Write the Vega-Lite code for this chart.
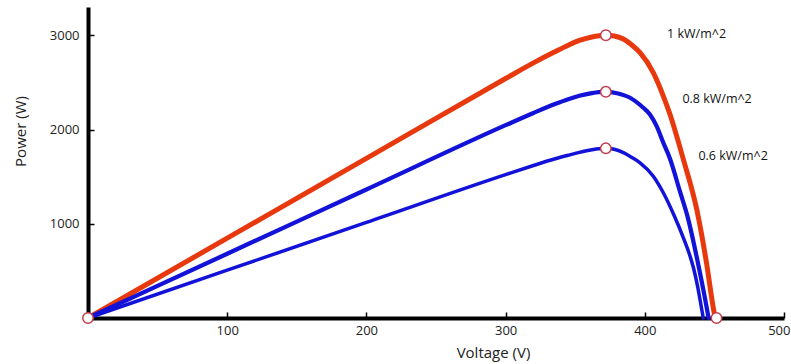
{
  "$schema": "https://vega.github.io/schema/vega-lite/v6.json",
  "width": 696,
  "height": 311,
  "autosize": {"type": "none"},
  "padding": {"left": 88, "top": 7, "right": 7, "bottom": 46},
  "background": "white",
  "config": {
    "view": {"stroke": null},
    "font": "Open Sans",
    "axis": {
      "grid": false,
      "domainColor": "black",
      "domainWidth": 4,
      "tickColor": "black",
      "tickWidth": 1.5,
      "tickSize": -6,
      "labelFont": "Open Sans",
      "labelFontSize": 13,
      "labelColor": "#222",
      "labelFlush": false,
      "titleFont": "Open Sans",
      "titleFontSize": 15,
      "titleFontWeight": "normal",
      "titleColor": "#222"
    }
  },
  "datasets": {
    "curves": [
      {"s": "1 kW/m^2", "V": 0, "P": 0},
      {"s": "1 kW/m^2", "V": 100, "P": 847},
      {"s": "1 kW/m^2", "V": 200, "P": 1694},
      {"s": "1 kW/m^2", "V": 300, "P": 2541},
      {"s": "1 kW/m^2", "V": 320, "P": 2707},
      {"s": "1 kW/m^2", "V": 335, "P": 2822},
      {"s": "1 kW/m^2", "V": 345, "P": 2895},
      {"s": "1 kW/m^2", "V": 353, "P": 2945},
      {"s": "1 kW/m^2", "V": 362, "P": 2982},
      {"s": "1 kW/m^2", "V": 367, "P": 2995},
      {"s": "1 kW/m^2", "V": 372, "P": 3000},
      {"s": "1 kW/m^2", "V": 378, "P": 2992},
      {"s": "1 kW/m^2", "V": 384.6, "P": 2960},
      {"s": "1 kW/m^2", "V": 390.5, "P": 2900},
      {"s": "1 kW/m^2", "V": 396.6, "P": 2815},
      {"s": "1 kW/m^2", "V": 406.1, "P": 2603},
      {"s": "1 kW/m^2", "V": 413.3, "P": 2355},
      {"s": "1 kW/m^2", "V": 418, "P": 2165},
      {"s": "1 kW/m^2", "V": 427.7, "P": 1683},
      {"s": "1 kW/m^2", "V": 437.5, "P": 1140},
      {"s": "1 kW/m^2", "V": 444.5, "P": 568},
      {"s": "1 kW/m^2", "V": 449.2, "P": 108},
      {"s": "1 kW/m^2", "V": 450.6, "P": 0},
      {"s": "0.8 kW/m^2", "V": 0, "P": 0},
      {"s": "0.8 kW/m^2", "V": 100, "P": 682},
      {"s": "0.8 kW/m^2", "V": 200, "P": 1364},
      {"s": "0.8 kW/m^2", "V": 300, "P": 2046},
      {"s": "0.8 kW/m^2", "V": 320, "P": 2176},
      {"s": "0.8 kW/m^2", "V": 335, "P": 2268},
      {"s": "0.8 kW/m^2", "V": 345, "P": 2322},
      {"s": "0.8 kW/m^2", "V": 353, "P": 2358},
      {"s": "0.8 kW/m^2", "V": 362, "P": 2386},
      {"s": "0.8 kW/m^2", "V": 367, "P": 2396},
      {"s": "0.8 kW/m^2", "V": 372, "P": 2400},
      {"s": "0.8 kW/m^2", "V": 380, "P": 2385},
      {"s": "0.8 kW/m^2", "V": 389.4, "P": 2337},
      {"s": "0.8 kW/m^2", "V": 398.9, "P": 2231},
      {"s": "0.8 kW/m^2", "V": 403.7, "P": 2160},
      {"s": "0.8 kW/m^2", "V": 408.5, "P": 2036},
      {"s": "0.8 kW/m^2", "V": 413.3, "P": 1860},
      {"s": "0.8 kW/m^2", "V": 418.1, "P": 1690},
      {"s": "0.8 kW/m^2", "V": 425.3, "P": 1340},
      {"s": "0.8 kW/m^2", "V": 431, "P": 1060},
      {"s": "0.8 kW/m^2", "V": 438.4, "P": 568},
      {"s": "0.8 kW/m^2", "V": 444.5, "P": 108},
      {"s": "0.8 kW/m^2", "V": 445.8, "P": 0},
      {"s": "0.6 kW/m^2", "V": 0, "P": 0},
      {"s": "0.6 kW/m^2", "V": 100, "P": 507},
      {"s": "0.6 kW/m^2", "V": 200, "P": 1014},
      {"s": "0.6 kW/m^2", "V": 300, "P": 1521},
      {"s": "0.6 kW/m^2", "V": 320, "P": 1618},
      {"s": "0.6 kW/m^2", "V": 335, "P": 1687},
      {"s": "0.6 kW/m^2", "V": 345, "P": 1727},
      {"s": "0.6 kW/m^2", "V": 353, "P": 1757},
      {"s": "0.6 kW/m^2", "V": 362, "P": 1785},
      {"s": "0.6 kW/m^2", "V": 367, "P": 1796},
      {"s": "0.6 kW/m^2", "V": 372, "P": 1800},
      {"s": "0.6 kW/m^2", "V": 378, "P": 1790},
      {"s": "0.6 kW/m^2", "V": 384.6, "P": 1754},
      {"s": "0.6 kW/m^2", "V": 390.5, "P": 1705},
      {"s": "0.6 kW/m^2", "V": 396.6, "P": 1647},
      {"s": "0.6 kW/m^2", "V": 406.1, "P": 1505},
      {"s": "0.6 kW/m^2", "V": 413.3, "P": 1329},
      {"s": "0.6 kW/m^2", "V": 421, "P": 1090},
      {"s": "0.6 kW/m^2", "V": 428, "P": 840},
      {"s": "0.6 kW/m^2", "V": 432, "P": 680},
      {"s": "0.6 kW/m^2", "V": 435, "P": 530},
      {"s": "0.6 kW/m^2", "V": 438, "P": 330},
      {"s": "0.6 kW/m^2", "V": 440.5, "P": 125},
      {"s": "0.6 kW/m^2", "V": 442, "P": 0}
    ],
    "points": [
      {"V": 0, "P": 0},
      {"V": 372, "P": 3000},
      {"V": 372, "P": 2400},
      {"V": 372, "P": 1800},
      {"V": 451.5, "P": 0}
    ],
    "labels": [
      {"t": "1 kW/m^2", "V": 416, "P": 3010},
      {"t": "0.8 kW/m^2", "V": 427, "P": 2320},
      {"t": "0.6 kW/m^2", "V": 438.5, "P": 1718}
    ]
  },
  "encoding": {
    "x": {
      "field": "V",
      "type": "quantitative",
      "scale": {"domain": [0, 500], "nice": false, "zero": true},
      "axis": {
        "title": "Voltage (V)",
        "values": [100, 200, 300, 400, 500],
        "format": "d",
        "labelPadding": 12,
        "labelFlush": true,
        "labelFlushOffset": 6,
        "titleX": 405,
        "titleY": 34,
        "titleBaseline": "middle",
        "titleAnchor": "start",
        "titleAlign": "center"
      }
    },
    "y": {
      "field": "P",
      "type": "quantitative",
      "scale": {"domain": [0, 3300], "nice": false},
      "axis": {
        "title": "Power (W)",
        "values": [1000, 2000, 3000],
        "format": "d",
        "labelPadding": 15,
        "titleX": -68,
        "titleY": 124,
        "titleAngle": -90,
        "titleAlign": "center",
        "titleBaseline": "middle"
      }
    }
  },
  "layer": [
    {
      "data": {"name": "curves"},
      "mark": {"type": "line", "interpolate": "monotone", "strokeCap": "round", "strokeJoin": "round"},
      "encoding": {
        "color": {
          "field": "s",
          "type": "nominal",
          "scale": {"domain": ["1 kW/m^2", "0.8 kW/m^2", "0.6 kW/m^2"], "range": ["#e8380d", "#1212d8", "#1212d8"]},
          "legend": null
        },
        "strokeWidth": {
          "field": "s",
          "type": "ordinal",
          "scale": {"domain": ["1 kW/m^2", "0.8 kW/m^2", "0.6 kW/m^2"], "range": [5, 3.5, 3.5]},
          "legend": null
        }
      }
    },
    {
      "data": {"name": "points"},
      "mark": {"type": "point", "shape": "circle", "filled": false, "fill": "white", "fillOpacity": 1, "stroke": "#c43c4c", "strokeWidth": 1.5, "size": 110, "opacity": 1},
      "encoding": {}
    },
    {
      "data": {"name": "labels"},
      "mark": {"type": "text", "align": "left", "baseline": "middle", "font": "Open Sans", "fontSize": 12.5, "color": "#111"},
      "encoding": {"text": {"field": "t", "type": "nominal"}}
    }
  ]
}
